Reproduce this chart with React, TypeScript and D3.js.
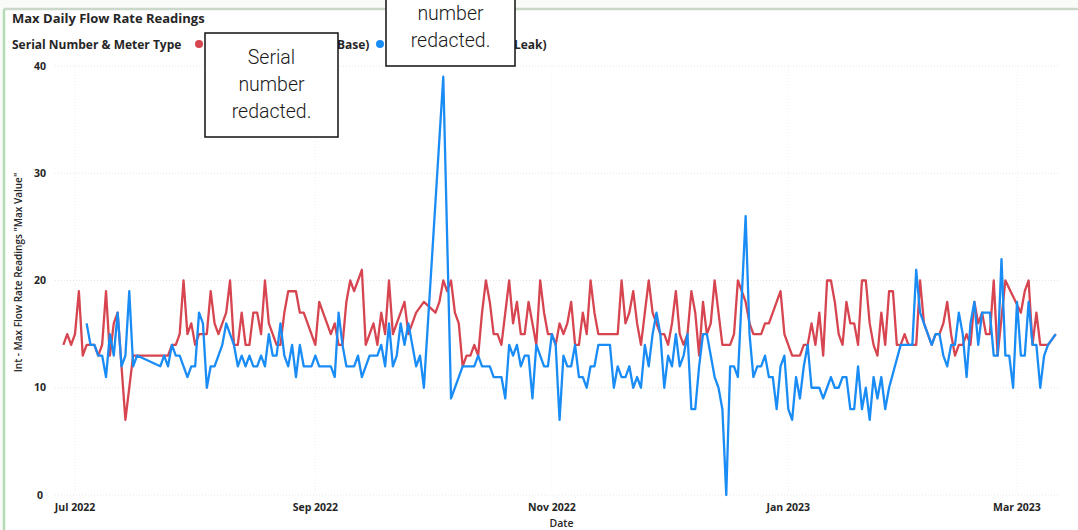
import React from "react";
import * as d3 from "d3";

const W = 1078;
const H = 530;

// Daily maximum flow readings as [day offset from 1 Jul 2022, value].
// Days with no reading are simply absent, so the line bridges them.
const baseReadings: [number, number][] = [
  [-3, 14], [-2, 15], [-1, 14], [0, 15], [1, 19], [2, 13], [3, 14], [4, 14], [5, 14], [6, 13],
  [7, 14], [8, 19], [9, 13], [10, 16], [11, 17], [13, 7], [15, 13], [24, 13], [25, 14], [26, 14],
  [27, 15], [28, 20], [29, 15], [30, 16], [31, 14], [32, 15], [33, 15], [34, 15], [35, 19], [36, 16],
  [37, 15], [38, 16], [39, 17], [40, 20], [41, 14], [42, 14], [43, 17], [44, 14], [45, 14], [46, 17],
  [47, 17], [48, 15], [49, 20], [50, 16], [51, 15], [52, 14], [53, 14], [54, 17], [55, 19], [56, 19],
  [57, 19], [58, 17], [59, 17], [60, 16], [61, 15], [62, 14], [63, 18], [64, 17], [65, 16], [66, 15],
  [67, 16], [68, 14], [69, 14], [70, 18], [71, 20], [72, 19], [73, 20], [74, 21], [75, 14], [76, 15],
  [77, 16], [78, 14], [79, 17], [80, 15], [81, 20], [82, 15], [83, 16], [84, 17], [85, 18], [86, 15],
  [87, 16], [88, 17], [90, 18], [93, 17], [94, 18], [95, 20], [96, 19], [97, 20], [98, 17], [99, 16],
  [100, 12], [101, 13], [102, 13], [103, 14], [104, 13], [105, 17], [106, 20], [107, 18], [108, 15], [109, 15],
  [110, 14], [111, 17], [112, 20], [113, 16], [114, 18], [115, 15], [116, 15], [117, 18], [118, 16], [119, 14],
  [120, 20], [121, 17], [122, 15], [123, 15], [124, 14], [125, 16], [126, 15], [127, 16], [128, 18], [129, 14],
  [130, 14], [131, 17], [132, 15], [133, 20], [134, 17], [135, 15], [136, 15], [137, 15], [138, 15], [139, 15],
  [140, 15], [141, 20], [142, 16], [143, 17], [144, 19], [145, 16], [146, 14], [147, 17], [148, 20], [149, 17],
  [150, 16], [151, 15], [152, 15], [153, 14], [154, 16], [155, 19], [156, 15], [157, 14], [158, 15], [159, 19],
  [160, 17], [161, 13], [162, 18], [163, 15], [164, 16], [165, 20], [166, 17], [167, 14], [168, 14], [169, 14],
  [170, 15], [171, 20], [172, 19], [173, 18], [174, 16], [175, 15], [176, 15], [177, 15], [178, 16], [179, 16],
  [180, 17], [181, 18], [182, 19], [183, 15], [184, 14], [185, 13], [186, 13], [187, 13], [188, 14], [189, 14],
  [190, 16], [191, 14], [192, 17], [193, 13], [194, 20], [195, 20], [196, 18], [197, 15], [198, 14], [199, 18],
  [200, 16], [201, 16], [202, 14], [203, 20], [204, 20], [205, 16], [206, 14], [207, 13], [208, 17], [209, 14],
  [210, 19], [211, 19], [212, 14], [213, 14], [214, 15], [215, 14], [216, 14], [217, 14], [218, 20], [219, 16],
  [220, 15], [221, 14], [222, 15], [223, 15], [224, 16], [225, 18], [226, 15], [227, 13], [228, 14], [229, 14],
  [230, 15], [231, 14], [232, 18], [233, 16], [234, 17], [235, 15], [236, 15], [237, 20], [238, 13], [240, 20],
  [244, 17], [245, 19], [246, 20], [247, 14], [248, 17], [249, 14], [251, 14], [253, 15],
];

const leakReadings: [number, number][] = [
  [3, 16], [4, 14], [5, 14], [6, 13], [7, 13], [8, 11], [9, 15], [10, 13], [11, 17], [12, 12],
  [13, 13], [14, 19], [15, 12], [16, 13], [22, 12], [23, 13], [24, 12], [25, 14], [26, 13], [27, 13],
  [28, 12], [29, 11], [30, 12], [31, 12], [32, 17], [33, 16], [34, 10], [35, 12], [36, 12], [37, 13],
  [38, 14], [39, 16], [40, 15], [41, 14], [42, 12], [43, 13], [44, 12], [45, 13], [46, 12], [47, 12],
  [48, 13], [49, 12], [50, 15], [51, 13], [52, 13], [53, 16], [54, 13], [55, 12], [56, 14], [57, 11],
  [58, 14], [59, 12], [60, 12], [61, 12], [62, 13], [63, 12], [64, 12], [65, 12], [66, 12], [67, 11],
  [68, 17], [69, 14], [70, 12], [71, 12], [72, 12], [73, 13], [74, 11], [75, 12], [76, 13], [77, 13],
  [78, 13], [79, 14], [80, 12], [81, 16], [82, 12], [83, 13], [84, 16], [85, 14], [86, 16], [87, 14],
  [88, 12], [89, 13], [90, 10], [95, 39], [97, 9], [98, 10], [99, 11], [100, 12], [101, 12], [102, 12],
  [103, 12], [104, 13], [105, 12], [106, 12], [107, 12], [108, 11], [109, 11], [110, 11], [111, 9], [112, 14],
  [113, 13], [114, 14], [115, 12], [116, 13], [117, 13], [118, 9], [119, 14], [120, 13], [121, 12], [122, 12],
  [123, 15], [124, 14], [125, 7], [126, 13], [127, 12], [128, 12], [129, 14], [130, 11], [131, 11], [132, 10],
  [133, 12], [134, 12], [135, 14], [136, 14], [137, 14], [138, 14], [139, 10], [140, 12], [141, 11], [142, 11],
  [143, 12], [144, 10], [145, 11], [146, 10], [147, 14], [148, 12], [149, 15], [150, 17], [151, 15], [152, 10],
  [153, 13], [154, 12], [155, 15], [156, 12], [157, 13], [158, 15], [159, 8], [160, 8], [161, 12], [162, 15],
  [163, 15], [164, 13], [165, 11], [166, 10], [167, 8], [168, 0], [169, 12], [170, 12], [171, 11], [173, 26],
  [174, 15], [175, 11], [176, 12], [177, 12], [178, 13], [179, 11], [180, 11], [181, 8], [182, 12], [183, 13],
  [184, 8], [185, 7], [186, 11], [187, 9], [188, 12], [189, 14], [190, 10], [191, 10], [192, 10], [193, 9],
  [194, 10], [195, 11], [196, 10], [197, 10], [198, 11], [199, 11], [200, 8], [201, 8], [202, 12], [203, 8],
  [204, 10], [205, 7], [206, 11], [207, 9], [208, 11], [209, 8], [210, 10], [213, 14], [214, 14], [215, 14],
  [216, 14], [217, 21], [218, 17], [219, 16], [220, 15], [221, 14], [222, 15], [223, 15], [224, 13], [225, 12],
  [226, 14], [227, 14], [228, 17], [229, 15], [230, 11], [231, 16], [232, 18], [233, 14], [234, 17], [235, 17],
  [236, 17], [237, 13], [238, 13], [239, 22], [240, 13], [241, 13], [242, 10], [243, 18], [244, 13], [245, 13],
  [246, 18], [247, 14], [248, 14], [249, 10], [250, 13], [251, 14], [253, 15],
];

const yTicks = [0, 10, 20, 30, 40];
const xTickDates = [
  new Date(2022, 6, 1),
  new Date(2022, 8, 1),
  new Date(2022, 10, 1),
  new Date(2023, 0, 1),
  new Date(2023, 2, 1),
];

const ORIGIN = new Date(2022, 6, 1);
const toDate = (offset: number) => d3.timeDay.offset(ORIGIN, offset);

const BASE_COLOR = "#D64550";
const LEAK_COLOR = "#1A8CF5";
const TEXT = "#262626";
const UI_FONT = "'Open Sans', 'Liberation Sans', sans-serif";
const NOTE_FONT = "Roboto, 'Open Sans', sans-serif";

export default function App() {
  const plotLeft = 55;
  const plotRight = 1060;

  const x = d3
    .scaleTime()
    .domain([xTickDates[0], xTickDates[xTickDates.length - 1]])
    .range([75, 1017]);
  const y = d3.scaleLinear().domain([0, 40]).range([495, 66]);
  const fmt = d3.timeFormat("%b %Y");

  const line = d3
    .line<[number, number]>()
    .x((p) => x(toDate(p[0])))
    .y((p) => y(p[1]));

  return (
    <svg
      width={W}
      height={H}
      style={{ position: "absolute", left: 0, top: 0, background: "#ffffff" }}
    >
      {/* card frame */}
      <rect x={0} y={0} width={W} height={9} fill="#f9fbf8" />
      <rect x={0} y={0} width={4} height={H} fill="#f9fbf8" />
      <line x1={4} x2={W} y1={9} y2={9} stroke="#c9d8c9" strokeWidth={2.5} />
      <line x1={4} x2={4} y1={9} y2={H} stroke="#b6dab6" strokeWidth={2.5} />

      {/* title */}
      <text x={12} y={23} fontFamily={UI_FONT} fontWeight={700} fontSize={13} fill={TEXT}>
        Max Daily Flow Rate Readings
      </text>

      {/* legend */}
      <text x={12} y={48.5} fontFamily={UI_FONT} fontWeight={700} fontSize={12} fill={TEXT}>
        Serial Number &amp; Meter Type
      </text>
      <circle cx={199} cy={44} r={4} fill={BASE_COLOR} />
      <text x={337} y={48.5} fontFamily={UI_FONT} fontWeight={700} fontSize={12} fill={TEXT}>
        Base)
      </text>
      <circle cx={380} cy={44} r={4} fill={LEAK_COLOR} />
      <text x={514} y={48.5} fontFamily={UI_FONT} fontWeight={700} fontSize={12} fill={TEXT}>
        Leak)
      </text>

      {/* gridlines */}
      {yTicks.map((t) => (
        <line
          key={`gy${t}`}
          x1={plotLeft}
          x2={plotRight}
          y1={y(t)}
          y2={y(t)}
          stroke="#e6e6e6"
          strokeWidth={1}
          strokeDasharray="1 2"
        />
      ))}
      {xTickDates.map((d) => (
        <line
          key={`gx${+d}`}
          x1={x(d)}
          x2={x(d)}
          y1={y(40)}
          y2={y(0)}
          stroke="#f0f0f0"
          strokeWidth={1}
          strokeDasharray="1 2"
        />
      ))}

      {/* y axis */}
      {yTicks.map((t) => (
        <text
          key={`ty${t}`}
          x={40}
          y={y(t)}
          dy="0.35em"
          textAnchor="middle"
          fontFamily={UI_FONT}
          fontWeight={700}
          fontSize={10.5}
          fill={TEXT}
        >
          {t}
        </text>
      ))}
      <text
        transform={`translate(22, ${(y(0) + y(40)) / 2 - 8}) rotate(-90)`}
        textAnchor="middle"
        fontFamily={UI_FONT}
        fontWeight={600}
        fontSize={10}
        fill={TEXT}
      >
        Int - Max Flow Rate Readings "Max Value"
      </text>

      {/* x axis */}
      {xTickDates.map((d) => (
        <text
          key={`tx${+d}`}
          x={x(d)}
          y={507}
          dy="0.35em"
          textAnchor="middle"
          fontFamily={UI_FONT}
          fontWeight={700}
          fontSize={10.5}
          fill={TEXT}
        >
          {fmt(d)}
        </text>
      ))}
      <text
        x={(plotLeft + plotRight) / 2 + 4}
        y={523}
        dy="0.35em"
        textAnchor="middle"
        fontFamily={UI_FONT}
        fontWeight={600}
        fontSize={10.5}
        fill={TEXT}
      >
        Date
      </text>

      {/* series */}
      <path
        d={line(baseReadings) ?? ""}
        fill="none"
        stroke={BASE_COLOR}
        strokeWidth={2.3}
        strokeLinejoin="round"
      />
      <path
        d={line(leakReadings) ?? ""}
        fill="none"
        stroke={LEAK_COLOR}
        strokeWidth={2.3}
        strokeLinejoin="round"
      />

      {/* redaction notes over the legend */}
      <g fontFamily={NOTE_FONT} fontWeight={300} fontSize={19.5} fill="#1a1a1a" textAnchor="middle">
        <rect x={205} y={33} width={133} height={104} fill="#ffffff" stroke="#111" strokeWidth={1.5} />
        <text x={271.5} y={57} dy="0.35em">Serial</text>
        <text x={271.5} y={84} dy="0.35em">number</text>
        <text x={271.5} y={111} dy="0.35em">redacted.</text>

        <rect x={386} y={-2} width={129} height={68} fill="#ffffff" stroke="#111" strokeWidth={1.5} />
        <text x={450.5} y={13} dy="0.35em">number</text>
        <text x={450.5} y={40} dy="0.35em">redacted.</text>
      </g>
    </svg>
  );
}
